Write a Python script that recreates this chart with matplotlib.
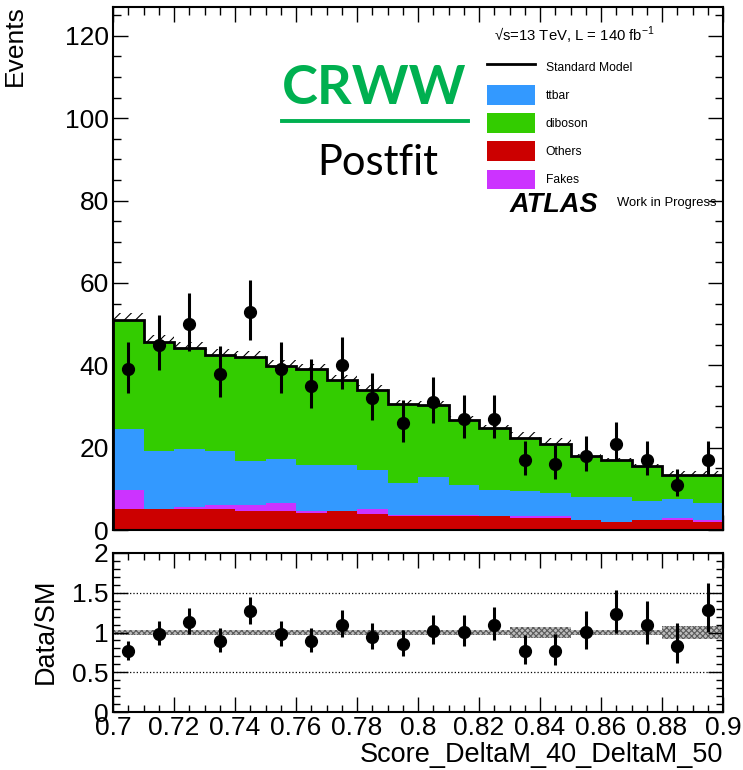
import numpy as np
import matplotlib
matplotlib.use("Agg")
import matplotlib.pyplot as plt
from matplotlib.lines import Line2D
from matplotlib.patches import Patch
from matplotlib.ticker import MultipleLocator, FormatStrFormatter

plt.rcParams["font.family"] = ["Liberation Sans", "DejaVu Sans"]
plt.rcParams["mathtext.fontset"] = "custom"
plt.rcParams["mathtext.rm"] = "Liberation Sans"
plt.rcParams["hatch.linewidth"] = 0.8

# ── Data ──────────────────────────────────────────────
edges = np.round(np.arange(0.70, 0.9001, 0.01), 3)
others = [5.1, 5.1, 5.2, 5.0, 4.7, 4.7, 4.1, 4.7, 3.9, 3.4,
          3.4, 3.5, 3.3, 2.9, 2.9, 2.5, 1.9, 2.4, 2.5, 1.9]
fakes = [4.5, 0.0, 0.5, 1.0, 1.3, 1.8, 0.4, 0.0, 1.1, 0.2,
         0.2, 0.1, 0.1, 0.4, 0.4, 0.0, 0.05, 0.1, 0.4, 0.5]
ttbar = [15.0, 14.0, 13.9, 13.3, 10.7, 10.8, 11.2, 11.2, 9.5, 7.9,
         9.2, 7.3, 6.4, 6.1, 5.6, 5.6, 6.15, 4.5, 4.7, 4.1]
diboson = [26.4, 26.6, 24.5, 23.2, 25.2, 22.5, 23.3, 20.5, 19.5, 19.0,
           17.5, 15.8, 14.9, 12.9, 12.0, 9.8, 8.9, 8.5, 5.7, 6.8]
data = [39, 45, 50, 38, 53, 39, 35, 40, 32, 26,
        31, 27, 27, 17, 16, 18, 21, 17, 11, 17]
sm_rel_unc = [0.035] * 13 + [0.065, 0.065, 0.035, 0.035, 0.035, 0.08, 0.08]

samples = ["Others", "Fakes", "ttbar", "diboson"]
colors = {"ttbar": "#3399ff", "diboson": "#33cc00",
          "Others": "#cc0000", "Fakes": "#cc33ff"}

# ── Derived quantities ────────────────────────────────
stack = {"Others": np.array(others), "Fakes": np.array(fakes),
         "ttbar": np.array(ttbar), "diboson": np.array(diboson)}
sm = sum(stack.values())
data = np.array(data, dtype=float)
centers = 0.5 * (edges[:-1] + edges[1:])
err_lo = np.sqrt(data + 0.25) - 0.5
err_hi = np.sqrt(data + 0.25) + 0.5
unc = sm * np.array(sm_rel_unc)
ratio = data / sm

W, H = 743, 770
fig = plt.figure(figsize=(W / 100, H / 100), dpi=100)
ax = fig.add_axes([113 / W, 1 - 530 / H, 610 / W, 523 / H])
rax = fig.add_axes([113 / W, 1 - 712 / H, 610 / W, 159 / H])

# ── Main panel ────────────────────────────────────────
# hatched SM uncertainty (sits under the stack)
ax.stairs(sm + unc, edges, baseline=sm - unc, fill=True, facecolor="none",
          edgecolor="black", hatch="///", linewidth=0, zorder=1)
bottom = np.zeros(len(sm))
for s in samples:
    ax.stairs(bottom + stack[s], edges, baseline=bottom, fill=True,
              color=colors[s], linewidth=0, zorder=2)
    bottom = bottom + stack[s]
ax.stairs(sm, edges, color="black", linewidth=2, zorder=3)
ax.errorbar(centers, data, yerr=[err_lo, err_hi], fmt="o", color="black",
            markersize=8.5, elinewidth=2.2, capsize=0, zorder=4)

ax.set_xlim(0.7, 0.9)
ax.set_ylim(0, 127)
ax.yaxis.set_major_locator(MultipleLocator(20))
ax.yaxis.set_minor_locator(MultipleLocator(5))
ax.xaxis.set_major_locator(MultipleLocator(0.02))
ax.xaxis.set_minor_locator(MultipleLocator(0.005))
ax.tick_params(which="both", direction="in", top=True, right=True,
               labelsize=19, pad=3)
ax.tick_params(which="major", length=11, width=1)
ax.tick_params(which="minor", length=6, width=1)
ax.tick_params(axis="x", labelbottom=False)
for sp in ax.spines.values():
    sp.set_linewidth(1.5)

# legend
handles = [Line2D([], [], color="black", linewidth=2)]
labels = ["Standard Model"]
for s in ["ttbar", "diboson", "Others", "Fakes"]:
    handles.append(Patch(facecolor=colors[s], edgecolor="none"))
    labels.append(s)
fig.legend(handles, labels, loc="upper left",
           bbox_to_anchor=(487 / W, 1 - 57 / H), frameon=False,
           fontsize=8.7, handlelength=4.0, handleheight=2.1,
           labelspacing=0.72, handletextpad=0.85, borderpad=0,
           borderaxespad=0)

fig.text(494 / W, 1 - 35 / H, "√s=13 TeV, L = 140 fb$^{-1}$",
         fontsize=10.7, va="center", ha="left")
fig.text(510 / W, 1 - 205 / H, "ATLAS", fontsize=19.5, fontweight="bold",
         fontstyle="italic", va="center", ha="left")
fig.text(617 / W, 1 - 203 / H, "Work in Progress", fontsize=9.4,
         va="center", ha="left")

fig.text(374 / W, 1 - 88 / H, "CRWW", fontsize=39, fontweight="bold",
         color="#00b050", family="Lato", ha="center", va="center")
fig.add_artist(Line2D([282 / W, 468 / W], [1 - 121 / H, 1 - 121 / H],
                      color="#00b050", linewidth=2.8))
fig.text(378 / W, 1 - 163 / H, "Postfit", fontsize=30, family="Lato",
         ha="center", va="center")

fig.text(15 / W, 1 - 5 / H, "Events", rotation=90, fontsize=19,
         ha="center", va="top")

# ── Ratio panel ───────────────────────────────────────
rax.stairs(1 + np.array(sm_rel_unc), edges,
           baseline=1 - np.array(sm_rel_unc), fill=True,
           facecolor="#bdbdbd", edgecolor="#5a5a5a", hatch="xxxxxx",
           linewidth=0, zorder=1)
rax.axhline(0.5, color="black", linestyle=":", linewidth=0.9, zorder=0)
rax.axhline(1.5, color="black", linestyle=":", linewidth=0.9, zorder=0)
rax.errorbar(centers, ratio, yerr=[err_lo / sm, err_hi / sm], fmt="o",
             color="black", markersize=8.5, elinewidth=2.2, capsize=0,
             zorder=4)

rax.set_xlim(0.7, 0.9)
rax.set_ylim(0, 2)
rax.yaxis.set_major_locator(MultipleLocator(0.5))
rax.yaxis.set_minor_locator(MultipleLocator(0.1))
rax.yaxis.set_major_formatter(FormatStrFormatter("%g"))
rax.xaxis.set_major_locator(MultipleLocator(0.02))
rax.xaxis.set_minor_locator(MultipleLocator(0.005))
rax.xaxis.set_major_formatter(FormatStrFormatter("%g"))
rax.tick_params(which="both", direction="in", top=True, right=True,
                labelsize=19, pad=3)
rax.tick_params(axis="x", pad=3)
rax.tick_params(which="major", length=11, width=1)
rax.tick_params(which="minor", length=5, width=1)
for sp in rax.spines.values():
    sp.set_linewidth(1.5)

fig.text(46 / W, 1 - 631 / H, "Data/SM", rotation=90, fontsize=19.5,
         ha="center", va="center")
fig.text(723 / W, 1 - 755 / H, "Score_DeltaM_40_DeltaM_50", fontsize=19.5,
         ha="right", va="center")

fig.savefig("out.png", dpi=100)
